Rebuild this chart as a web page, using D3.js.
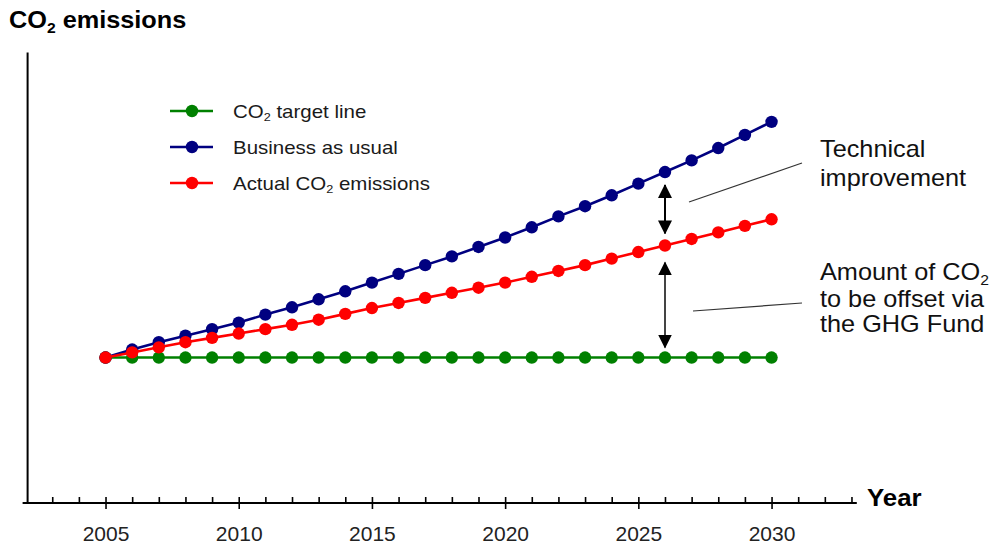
<!DOCTYPE html>
<html>
<head>
<meta charset="utf-8">
<script src="https://cdn.jsdelivr.net/npm/d3@7"></script>
<style>
  html, body { margin: 0; padding: 0; background: #fff; }
  svg { display: block; }
</style>
</head>
<body>
<svg id="chart" width="996" height="546"></svg>
<script>
// ---- data ----
const years = [2005, 2006, 2007, 2008, 2009, 2010, 2011, 2012, 2013, 2014, 2015, 2016, 2017,
               2018, 2019, 2020, 2021, 2022, 2023, 2024, 2025, 2026, 2027, 2028, 2029, 2030];
const targetLine = [100, 100, 100, 100, 100, 100, 100, 100, 100, 100, 100, 100, 100,
                    100, 100, 100, 100, 100, 100, 100, 100, 100, 100, 100, 100, 100];
const businessAsUsual = [100, 105.5, 110.5, 115, 119.5, 124, 129.5, 134.5, 140, 145.5, 151.5, 157.5, 163.5,
                         169.5, 176, 182.5, 189.5, 197, 204, 211.5, 219.5, 227.5, 235.5, 244, 253, 262];
const actualEmissions = [100, 103.5, 107, 110.5, 113.5, 116.5, 119.5, 122.5, 126, 130, 134, 137.5, 141,
                         144.5, 148, 151.5, 155.5, 159.5, 163.5, 168, 172.5, 177, 181.5, 186, 190.5, 195];
const majorTicks = [2005, 2010, 2015, 2020, 2025, 2030];
const allTicks = [2003, 2004, 2005, 2006, 2007, 2008, 2009, 2010, 2011, 2012, 2013, 2014, 2015, 2016, 2017, 2018,
                  2019, 2020, 2021, 2022, 2023, 2024, 2025, 2026, 2027, 2028, 2029, 2030, 2031, 2032, 2033];
const seriesNames = ["target", "bau", "actual"];
const seriesColors = ["#008000", "#000080", "#ff0000"];
const arrowYear = 2026;

const series = [
  { name: seriesNames[0], color: seriesColors[0], values: targetLine },
  { name: seriesNames[1], color: seriesColors[1], values: businessAsUsual },
  { name: seriesNames[2], color: seriesColors[2], values: actualEmissions }
];

// ---- scales ----
const svg = d3.select("#chart");
const x = d3.scaleLinear().domain([2002, 2033.2]).range([25.6, 856.8]);
const y = d3.scaleLinear().domain([0, 310]).range([503, 52]);
const FONT = "'Liberation Sans', Arial, Helvetica, sans-serif";
const STRETCH = 1.1;

svg.append("rect").attr("width", 996).attr("height", 546).attr("fill", "#fff");

// helper for slightly widened text; parts are plain strings or {subscript: "..."}
function label(g, px, py, parts, size, weight, anchor) {
  const t = g.append("text")
    .attr("transform", `translate(${px},${py}) scale(${STRETCH},1)`)
    .attr("font-family", FONT)
    .attr("font-size", size)
    .attr("font-weight", weight || "normal")
    .attr("text-anchor", anchor || "start")
    .attr("fill", "#000");
  parts.forEach(p => {
    if (typeof p === "string") {
      t.append("tspan").text(p);
    } else {
      t.append("tspan")
        .attr("font-size", size * 0.62)
        .attr("baseline-shift", -size * 0.22)
        .text(p.subscript);
    }
  });
  return t;
}

// ---- axes ----
const axisY = 503;
const gx = svg.append("g").attr("transform", `translate(0,${axisY})`);
// upward ticks for every year
gx.call(d3.axisBottom(x).tickValues(allTicks).tickSizeInner(-6).tickSizeOuter(0).tickFormat(""))
  .call(g => g.select(".domain").remove())
  .call(g => g.selectAll(".tick line").attr("stroke", "#000").attr("stroke-width", 1.6));
// downward ticks and labels on the five-year marks
const gMajor = svg.append("g").attr("transform", `translate(0,${axisY})`);
gMajor.call(d3.axisBottom(x).tickValues(majorTicks).tickSize(6).tickPadding(17.5).tickFormat(d3.format("d")))
  .call(g => g.select(".domain").remove())
  .call(g => g.selectAll(".tick line").attr("stroke", "#000").attr("stroke-width", 1.6))
  .call(g => g.selectAll(".tick text")
    .attr("font-family", FONT).attr("font-size", 21).attr("fill", "#222"));
// baseline
gx.append("line")
  .attr("x1", x.range()[0] - 3).attr("x2", x.range()[1])
  .attr("y1", 0).attr("y2", 0)
  .attr("stroke", "#000").attr("stroke-width", 2);
// vertical axis
svg.append("g").attr("transform", `translate(${x(2002) + 1.5},0)`)
  .call(d3.axisLeft(y).tickValues([]).tickSizeOuter(0))
  .call(g => g.select(".domain").attr("stroke", "#000").attr("stroke-width", 2));

// axis titles
label(svg, 9, 28, ["CO", { subscript: "2" }, " emissions"], 23, "bold");
label(svg, 867, 506, ["Year"], 23.5, "bold");

// ---- series ----
const line = d3.line().x((d, i) => x(years[i])).y(d => y(d));
const gSeries = svg.append("g");
series.forEach(s => {
  gSeries.append("path")
    .datum(s.values)
    .attr("d", line)
    .attr("fill", "none")
    .attr("stroke", s.color)
    .attr("stroke-width", 2.6);
  gSeries.selectAll(null)
    .data(s.values)
    .enter().append("circle")
    .attr("cx", (d, i) => x(years[i]))
    .attr("cy", d => y(d))
    .attr("r", 6.2)
    .attr("fill", s.color);
});

// ---- legend ----
const legendLabels = [
  ["CO", { subscript: "2" }, " target line"],
  ["Business as usual"],
  ["Actual CO", { subscript: "2" }, " emissions"]
];
const legendY = [111, 147, 183];
const gLeg = svg.append("g");
series.forEach((s, i) => {
  gLeg.append("line")
    .attr("x1", 170).attr("x2", 213)
    .attr("y1", legendY[i]).attr("y2", legendY[i])
    .attr("stroke", s.color).attr("stroke-width", 2.6);
  gLeg.append("circle")
    .attr("cx", 192).attr("cy", legendY[i]).attr("r", 6.2).attr("fill", s.color);
  label(gLeg, 233, legendY[i] + 6.5, legendLabels[i], 18.6, "normal").attr("fill", "#1a1a1a");
});

// ---- gap arrows ----
const defs = svg.append("defs");
defs.append("marker")
  .attr("id", "head")
  .attr("viewBox", "0 0 14 14")
  .attr("refX", 13).attr("refY", 7)
  .attr("markerWidth", 14).attr("markerHeight", 14)
  .attr("markerUnits", "userSpaceOnUse")
  .attr("orient", "auto-start-reverse")
  .append("path").attr("d", "M0,0 L14,7 L0,14 Z").attr("fill", "#000");
const ai = years.indexOf(arrowYear);
const ax = x(arrowYear);
const gaps = [
  { top: y(businessAsUsual[ai]) + 13, bottom: y(actualEmissions[ai]) - 12, color: "#000" },
  { top: y(actualEmissions[ai]) + 17, bottom: y(targetLine[ai]) - 10, color: "#444" }
];
gaps.forEach(g => {
  svg.append("line")
    .attr("x1", ax).attr("x2", ax)
    .attr("y1", g.top).attr("y2", g.bottom)
    .attr("stroke", g.color).attr("stroke-width", 2)
    .attr("marker-start", "url(#head)")
    .attr("marker-end", "url(#head)");
});

// ---- annotations ----
const gNote = svg.append("g");
gNote.append("line").attr("x1", 689).attr("y1", 202).attr("x2", 802).attr("y2", 163)
  .attr("stroke", "#333").attr("stroke-width", 1.2);
gNote.append("line").attr("x1", 693).attr("y1", 311).attr("x2", 802).attr("y2", 303)
  .attr("stroke", "#333").attr("stroke-width", 1.2);
label(gNote, 820, 157, ["Technical"], 23, "normal").attr("fill", "#111");
label(gNote, 820, 186, ["improvement"], 23, "normal").attr("fill", "#111");
label(gNote, 820, 280, ["Amount of CO", { subscript: "2" }], 23, "normal").attr("fill", "#111");
label(gNote, 820, 307, ["to be offset via"], 23, "normal").attr("fill", "#111");
label(gNote, 820, 332, ["the GHG Fund"], 23, "normal").attr("fill", "#111");
</script>
</body>
</html>
